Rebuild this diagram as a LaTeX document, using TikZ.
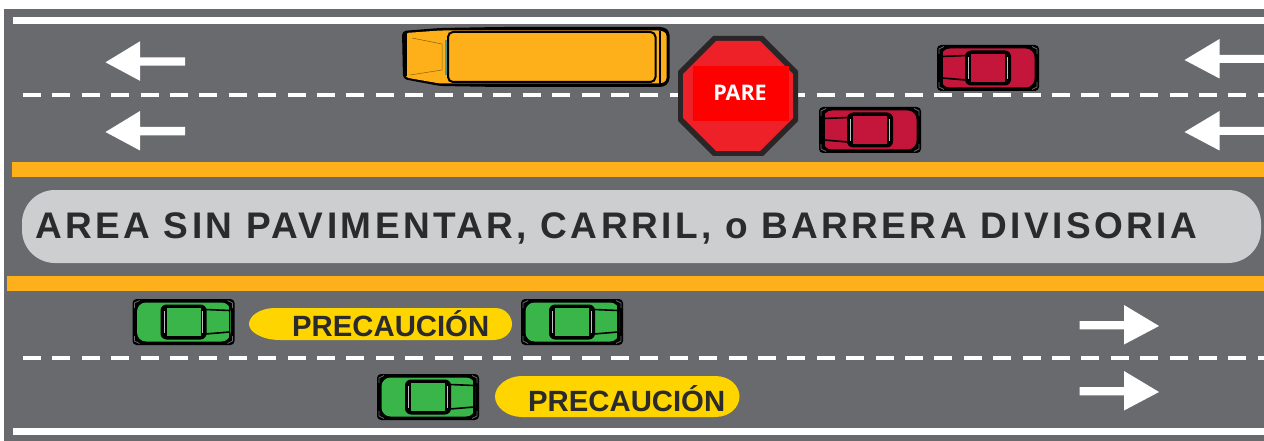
\documentclass[tikz,border=0pt]{standalone}
\usepackage{fontspec}
\setmainfont{Liberation Sans}
\newfontfamily\signfont{Open Sans}
\definecolor{asphalt}{HTML}{696A6E}
\definecolor{busy}{HTML}{FDB01A}
\definecolor{divgray}{HTML}{CDCED0}
\definecolor{darktxt}{HTML}{2B2A2C}
\definecolor{capsule}{HTML}{FFD500}
\definecolor{carred}{HTML}{C4163A}
\definecolor{cargreen}{HTML}{3AB54A}
\definecolor{signred}{HTML}{EE2028}
\definecolor{signedge}{HTML}{2A2627}
\tikzset{
  x=1pt,y=-1pt,
  dashline/.style={white,line width=4.2pt,dash pattern=on 18pt off 11.4pt},
  edgeline/.style={white,line width=6.6pt},
  yellowbar/.style={fill=busy},
  roadarrow/.style={fill=white},
  warntxt/.style={font=\bfseries\fontsize{29.3}{31}\selectfont,text=darktxt,inner sep=0pt},
  pics/car/.style={code={
    % local box: hood towards negative x
    \fill[black,rounded corners=4pt] (-51,-23) rectangle (51,23);
    \fill[#1,rounded corners=9pt] (-47,-19.5) rectangle (46.5,19.5);
    % corner glints
    \draw[asphalt,line width=.7pt] (-49,-14) -- (-49,-19) -- (-44,-21.5)
      (-49,14) -- (-49,19) -- (-44,21.5)
      (49,-14) -- (49,-19) -- (44,-21.5)
      (49,14) -- (49,19) -- (44,21.5);
    % hood lines
    \draw[black,line width=1.6pt] (-46,-18) -- (-46,18);
    \draw[black,line width=1.6pt] (-46,-11.5) -- (-22,-12.5) (-46,10) -- (-22,12);
    % cabin
    \fill[black,rounded corners=6pt] (-23,-17.5) rectangle (23,17.5);
    \draw[white!75!black,line width=.7pt] (-19.3,-11) -- (-19.3,11) (19.3,-11) -- (19.3,11);
    \fill[#1] (-17,-14) rectangle (17,14);
  }},
}
\begin{document}
\begin{tikzpicture}
\useasboundingbox (0,0) rectangle (1264,441);
\fill[white] (0,0) rectangle (1264,441);
\fill[asphalt] (4,9) rectangle (1264,441);
% edge lines
\draw[edgeline] (13,20.3) -- (1264,20.3);
\draw[edgeline] (13,431.4) -- (1264,431.4);
% lane lines
\draw[dashline] (23,95) -- (1264,95);
\draw[dashline] (23,358) -- (1264,358);
% yellow bars and divider
\fill[yellowbar] (12,162) rectangle (1264,177);
\fill[yellowbar] (7,276) rectangle (1264,291);
\fill[divgray,rounded corners=33pt] (22,190) rectangle (1261,263);
\node[font=\bfseries\fontsize{37}{39}\selectfont,text=darktxt,inner sep=0pt,anchor=base west] (divtext) at (35,238) {\addfontfeature{LetterSpace=9.25}AREA SIN PAVIMENTAR, CARRIL, o BARRERA DIVISORIA};
% arrows
\foreach \ay in {62.3,132}{
  \fill[roadarrow] (105.5,\ay) -- (140,\ay-21) -- (140,\ay-5) -- (185,\ay-5) -- (185,\ay+3.3) -- (140,\ay+3.3) -- (140,\ay+18.5) -- cycle;
}
\foreach \ay in {60,132}{
  \fill[roadarrow] (1184.5,\ay) -- (1219.5,\ay-21) -- (1219.5,\ay-5) -- (1264,\ay-5) -- (1264,\ay+3) -- (1219.5,\ay+3) -- (1219.5,\ay+18.5) -- cycle;
}
\foreach \ay in {326,392}{
  \fill[roadarrow] (1159,\ay) -- (1124,\ay-21) -- (1124,\ay-5) -- (1079.5,\ay-5) -- (1079.5,\ay+3.3) -- (1124,\ay+3.3) -- (1124,\ay+18.5) -- cycle;
}
% bus
\fill[black,rounded corners=4pt] (402,31) -- (440,28) -- (500,27) -- (664,27) -- (669.5,31) -- (669.5,82) -- (664,87) -- (500,87) -- (440,86) -- (403,79) -- cycle;
\fill[busy,rounded corners=3pt] (405.5,33) -- (440,30.5) -- (661,30.5) -- (666.5,33) -- (666.5,81) -- (661,83.5) -- (440,83.5) -- (405.5,77.5) -- cycle;
\draw[black,line width=1.6pt] (660,31) -- (660,84);
\draw[black,line width=1.2pt] (406,33) -- (406,76);
\draw[black!45!busy,line width=.5pt] (412,38) -- (442,44) -- (442,70) -- (410,75);
\draw[asphalt!70!cyan,line width=1.6pt] (446,40) -- (446,75);
\draw[black,line width=2pt,fill=busy,rounded corners=5pt] (448,32) rectangle (655.5,82);
% stop sign
\fill[signedge] (713,36) -- (763,36) -- (798,71) -- (798,121) -- (763,156) -- (713,156) -- (678,121) -- (678,71) -- cycle;
\fill[signred] (716,41) -- (760,41) -- (793,74) -- (793,118) -- (760,151) -- (716,151) -- (683,118) -- (683,74) -- cycle;
\fill[red] (693,66) rectangle (789,121);
\node[font=\bfseries\fontsize{21.5}{23}\selectfont,text=white,inner sep=0pt] (pare) at (740,92.5) {\signfont PARE};
% cars
\pic at (988,68) {car=carred};
\pic at (870,130) {car=carred};
\pic[xscale=-1] at (183.5,322) {car=cargreen};
\pic[xscale=-1] at (572,322) {car=cargreen};
\pic[xscale=-1] at (428,397) {car=cargreen};
% caution pills
\fill[capsule] (275,308) -- (495,308) .. controls (507,308) and (512,318) .. (512,324) .. controls (512,332) and (505,340) .. (493,340) -- (280,340) .. controls (262,340) and (249,332) .. (249,324) .. controls (249,316) and (260,308) .. (275,308) -- cycle;
\node[warntxt,anchor=base west] (w1) at (292,336) {PRECAUCIÓN};
\fill[capsule] (522,376) -- (715,376) .. controls (730,376) and (739.5,386) .. (739.5,396.5) .. controls (739.5,407) and (730,417) .. (715,417) -- (522,417) .. controls (507,417) and (495,407) .. (495,396.5) .. controls (495,386) and (507,376) .. (522,376) -- cycle;
\node[warntxt,anchor=base west] (w2) at (528,411) {PRECAUCIÓN};
\end{tikzpicture}
\end{document}
